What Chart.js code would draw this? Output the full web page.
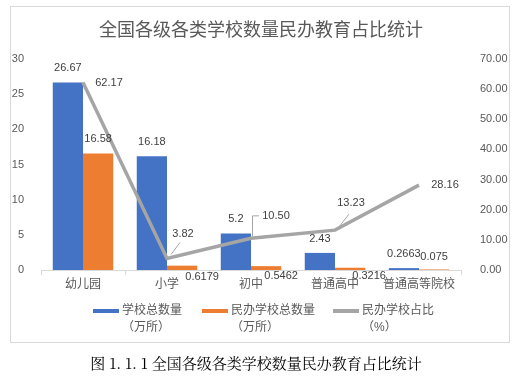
<!DOCTYPE html>
<html>
<head>
<meta charset="utf-8">
<script src="https://cdn.jsdelivr.net/npm/chart.js@4.4.1/dist/chart.umd.min.js"></script>
<style>
  html, body { margin: 0; padding: 0; background: #fff; }
  #wrap { position: relative; width: 522px; height: 378px; }
  #chart { position: absolute; left: 0; top: 0; }
  #caption {
    position: absolute; left: 0; top: 352px; width: 512px; text-align: center;
    font-family: 'Noto Serif CJK SC', 'Noto Sans CJK SC', serif; font-size: 15px; color: #000;
  }
</style>
</head>
<body>
<div id="wrap">
  <canvas id="chart" width="522" height="378"></canvas>
  <div id="caption">图 1. 1. 1 全国各级各类学校数量民办教育占比统计</div>
</div>
<script>
// data
const categories = ['幼儿园', '小学', '初中', '普通高中', '普通高等院校'];
const schoolTotal = [26.67, 16.18, 5.2, 2.43, 0.2663];      // 万所
const privateTotal = [16.58, 0.6179, 0.5462, 0.3216, 0.075]; // 万所
const privateShare = [62.17, 3.82, 10.50, 13.23, 28.16];     // %
const seriesNames = [['学校总数量', '（万所）'], ['民办学校总数量', '（万所）'], ['民办学校占比', '（%）']];
const chartTitle = '全国各级各类学校数量民办教育占比统计';

const FONT = "'Liberation Sans', 'Noto Sans CJK SC', sans-serif";
const TEXT = '#595959';
const LABEL = '#404040';
const colors = ['#4472C4', '#ED7D31', '#A5A5A5'];

// label offsets (px) from the bar top / line point
const totalOffsets = [[0, -14], [0, -14], [0, -14], [0, -14], [0, -14]];
const privateOffsets = [[0, -14], [20, 11], [15, 10], [19, 8], [0, -13]];
const shareOffsets = [[26, 0], [16, -25], [25, -22], [16, -27], [26, 0]];

const decor = {
  id: 'decor',
  beforeDraw(chart) {
    const c = chart.ctx;
    c.save();
    c.strokeStyle = '#D9D9D9';
    c.lineWidth = 1;
    c.strokeRect(10.5, 6.5, 499, 336);
    c.fillStyle = TEXT;
    c.font = '18px ' + FONT;
    c.textAlign = 'center';
    c.textBaseline = 'middle';
    c.fillText(chartTitle, 261, 31);
    c.restore();
  },
  afterDatasetsDraw(chart) {
    const c = chart.ctx;
    c.save();
    c.font = '11px ' + FONT;
    c.fillStyle = LABEL;
    c.textAlign = 'center';
    c.textBaseline = 'middle';
    const m0 = chart.getDatasetMeta(0).data;
    const m1 = chart.getDatasetMeta(1).data;
    const m2 = chart.getDatasetMeta(2).data;
    m0.forEach((el, i) => {
      c.fillText(String(schoolTotal[i]), el.x + totalOffsets[i][0], el.y + totalOffsets[i][1]);
    });
    m1.forEach((el, i) => {
      c.fillText(String(privateTotal[i]), el.x + privateOffsets[i][0], el.y + privateOffsets[i][1]);
    });
    // leader lines for line labels
    c.strokeStyle = '#A5A5A5';
    c.lineWidth = 1;
    const p1 = m2[1], p2 = m2[2], p3 = m2[3];
    c.beginPath();
    c.moveTo(p1.x + 4, p1.y - 4); c.lineTo(p1.x + 13, p1.y - 16);
    c.moveTo(p2.x + 1.5, p2.y - 2); c.lineTo(p2.x + 1.5, p2.y - 22.5); c.lineTo(p2.x + 8, p2.y - 22.5);
    c.moveTo(p3.x + 3, p3.y - 2); c.lineTo(p3.x + 14, p3.y - 16);
    c.stroke();
    m2.forEach((el, i) => {
      c.fillText(privateShare[i].toFixed(2), el.x + shareOffsets[i][0], el.y + shareOffsets[i][1]);
    });
    c.restore();
  },
  afterDraw(chart) {
    // legend
    const c = chart.ctx;
    c.save();
    c.font = '12px ' + FONT;
    c.fillStyle = TEXT;
    c.textAlign = 'left';
    c.textBaseline = 'middle';
    const marks = [93, 202, 333];
    marks.forEach((x, i) => {
      c.strokeStyle = colors[i];
      c.lineWidth = 4;
      c.beginPath();
      c.moveTo(x, 311); c.lineTo(x + 26, 311);
      c.stroke();
      c.fillText(seriesNames[i][0], x + 29, 311);
      c.fillText(seriesNames[i][1], x + 29, 328);
    });
    c.restore();
  }
};

new Chart(document.getElementById('chart'), {
  data: {
    labels: categories,
    datasets: [{
      type: 'bar',
      label: seriesNames[0].join(''),
      data: schoolTotal,
      backgroundColor: colors[0],
      yAxisID: 'y',
      order: 1,
      categoryPercentage: 0.72,
      barPercentage: 1
    }, {
      type: 'bar',
      label: seriesNames[1].join(''),
      data: privateTotal,
      backgroundColor: colors[1],
      yAxisID: 'y',
      order: 1,
      categoryPercentage: 0.72,
      barPercentage: 1
    }, {
      type: 'line',
      label: seriesNames[2].join(''),
      data: privateShare,
      borderColor: colors[2],
      borderWidth: 3.5,
      pointRadius: 0,
      tension: 0,
      yAxisID: 'y1',
      order: 0
    }]
  },
  options: {
    responsive: false,
    animation: false,
    layout: { padding: { top: 59, left: 0, right: 0, bottom: 78 } },
    plugins: { legend: { display: false }, title: { display: false }, tooltip: { enabled: false } },
    scales: {
      x: {
        offset: true,
        grid: { display: true, drawOnChartArea: false, drawTicks: true, tickLength: 5, color: '#D9D9D9' },
        border: { color: '#D9D9D9' },
        ticks: { color: TEXT, font: { family: FONT, size: 12 }, padding: 2, maxRotation: 0 },
        afterFit(s) { s.height = 30; }
      },
      y: {
        position: 'left',
        min: 0, max: 30,
        grid: { display: false },
        border: { display: false },
        ticks: { stepSize: 5, color: TEXT, font: { family: FONT, size: 11 }, padding: 9 },
        afterFit(s) { s.width = 41; }
      },
      y1: {
        position: 'right',
        min: 0, max: 70,
        grid: { display: false },
        border: { display: false },
        ticks: { stepSize: 10, color: TEXT, font: { family: FONT, size: 11 }, padding: 11,
                 callback: v => v.toFixed(2) },
        afterFit(s) { s.width = 61; }
      }
    }
  },
  plugins: [decor]
});
</script>
</body>
</html>
